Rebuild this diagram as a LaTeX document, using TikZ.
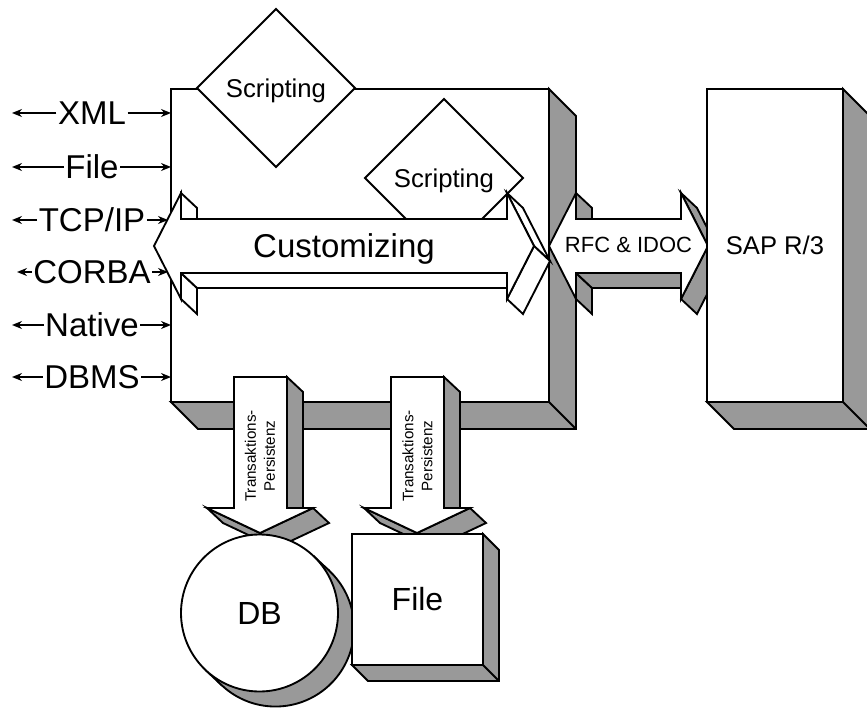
\documentclass[tikz,border=0pt]{standalone}
\usepackage{fontspec}
\setmainfont{Liberation Sans}
\usetikzlibrary{arrows.meta, shapes.geometric}

\definecolor{sidegray}{RGB}{153,153,153}
\tikzstyle{frontface} = [draw=black, fill=white, line width=1.4pt, outer sep=0pt]
\tikzstyle{sideface} = [draw=black, fill=sidegray, line width=1.4pt]
\tikzstyle{paleside} = [draw=black, fill=white, line width=1.4pt]
\tikzstyle{iface} = [font=\fontsize{24.75}{29}\selectfont, text height=17.7pt, text depth=0pt, inner sep=1pt]
\tikzstyle{connector} = [line width=1.1pt, -{Stealth[length=7.5pt,width=6pt]}]
\tikzstyle{scriptbox} = [diamond, frontface, minimum width=118.5pt, minimum height=118.5pt, inner sep=0pt, font=\fontsize{19.3}{23}\selectfont, text height=13.8pt, text depth=0pt]
\tikzstyle{persist} = [rotate=90, align=center, inner sep=0pt, font=\fontsize{11.4}{14.25}\selectfont]

\begin{document}
\begin{tikzpicture}[x=0.75pt, y=-0.75pt]
  \useasboundingbox (0,0) rectangle (867,709);
  \clip (0,0) rectangle (867,709);

  % Main block
  \node (core) at (360,245.5) [rectangle, frontface, minimum width=283.5pt, minimum height=234.75pt] {};
  \filldraw[sideface] (core.north east) -- ++(27,27) -- ++(0,313) -- ++(-378,0) -- (core.south west) -- (core.south east) -- cycle;
  \draw[line width=1.4pt] (core.south east) -- ++(27,27);

  % Scripting
  \node (script1) at (276,88) [scriptbox] {Scripting};
  \node (script2) at (444,178) [scriptbox] {Scripting};

  % Customizing arrow
  \filldraw[paleside] (181,193) -- (197,208) -- (197,234) -- (181,219) -- cycle;
  \filldraw[paleside] (181,273) -- (197,288) -- (197,314) -- (181,299) -- cycle;
  \filldraw[paleside] (181,273) -- (507,273) -- (523,288) -- (197,288) -- cycle;
  \filldraw[paleside] (507,193) -- (523,208) -- (550,261) -- (534,246) -- cycle;
  \filldraw[paleside] (534,246) -- (550,261) -- (523,314) -- (507,299) -- cycle;
  \filldraw[frontface] (154,246) -- (181,193) -- (181,219) -- (507,219) -- (507,193) -- (534,246)
    -- (507,299) -- (507,273) -- (181,273) -- (181,299) -- cycle;
  \node (custom) at (344,246) [font=\fontsize{24.75}{29}\selectfont, text height=17.7pt, text depth=0pt] {Customizing};

  % RFC arrow
  \filldraw[sideface] (576,193) -- (592,208) -- (592,234) -- (576,219) -- cycle;
  \filldraw[sideface] (576,273) -- (592,288) -- (592,314) -- (576,299) -- cycle;
  \filldraw[sideface] (576,273) -- (681,273) -- (697,288) -- (592,288) -- cycle;
  \filldraw[sideface] (681,193) -- (697,208) -- (724,261) -- (708,246) -- cycle;
  \filldraw[sideface] (708,246) -- (724,261) -- (697,314) -- (681,299) -- cycle;
  \filldraw[frontface] (549,246) -- (576,193) -- (576,219) -- (681,219) -- (681,193) -- (708,246)
    -- (681,299) -- (681,273) -- (576,273) -- (576,299) -- cycle;
  \node (rfc) at (628.5,245) [font=\fontsize{16.5}{20}\selectfont, text height=11.8pt, text depth=0pt] {RFC \& IDOC};

  % SAP
  \node (sap) at (775,245.5) [rectangle, frontface, minimum width=102pt, minimum height=234.75pt,
    font=\fontsize{19.2}{23}\selectfont, text height=13.75pt, text depth=0pt] {SAP R/3};
  \filldraw[sideface] (sap.north east) -- ++(27,27) -- ++(0,313) -- ++(-136,0) -- (sap.south west) -- (sap.south east) -- cycle;
  \draw[line width=1.4pt] (sap.south east) -- ++(27,27);

  % Persistence arrows
  \filldraw[sideface] (287,377) -- (303,392) -- (303,523) -- (287,508) -- cycle;
  \filldraw[sideface] (207,508) -- (260,533) -- (276,548) -- (223,523) -- cycle;
  \filldraw[sideface] (313,508) -- (329,523) -- (276,548) -- (260,533) -- cycle;
  \filldraw[frontface] (234,377) -- (287,377) -- (287,508) -- (313,508) -- (260,533) -- (207,508) -- (234,508) -- cycle;
  \node (persist1) at (260,456) [persist] {Transaktions-\\Persistenz};

  \filldraw[sideface] (444,377) -- (460,392) -- (460,523) -- (444,508) -- cycle;
  \filldraw[sideface] (364,508) -- (417,533) -- (433,548) -- (380,523) -- cycle;
  \filldraw[sideface] (470,508) -- (486,523) -- (433,548) -- (417,533) -- cycle;
  \filldraw[frontface] (391,377) -- (444,377) -- (444,508) -- (470,508) -- (417,533) -- (364,508) -- (391,508) -- cycle;
  \node (persist2) at (417.5,456) [persist] {Transaktions-\\Persistenz};

  % DB
  \filldraw[sideface] (275.5,628) circle[radius=58.9pt];
  \fill[sidegray] (313.2,555.7) -- (329.2,570.7) -- (221.8,685.3) -- (205.8,670.3) -- cycle;
  \draw[line width=1.4pt] (313.2,555.7) -- (329.2,570.7);
  \draw[line width=1.4pt] (205.8,670.3) -- (221.8,685.3);
  \node (db) at (259.5,613) [circle, frontface, minimum size=117.75pt, font=\fontsize{24}{28}\selectfont, text height=17.2pt, text depth=0pt] {DB};

  % File
  \node (filebox) at (417.5,599.5) [rectangle, frontface, minimum size=98.25pt, font=\fontsize{24}{28}\selectfont, text height=17.2pt, text depth=0pt] {File};
  \filldraw[sideface] (filebox.north east) -- ++(16,16) -- ++(0,131) -- ++(-131,0) -- (filebox.south west) -- (filebox.south east) -- cycle;
  \draw[line width=1.4pt] (filebox.south east) -- ++(16,16);

  % Interfaces
  \node (xml) at (92,113) [iface] {XML};
  \node (file) at (92,167) [iface] {File};
  \node (tcp) at (92,220) [iface] {TCP/IP};
  \node (corba) at (92,272) [iface] {CORBA};
  \node (native) at (92,325) [iface] {Native};
  \node (dbms) at (92,377) [iface] {DBMS};

  \coordinate (xmlout) at (12,113);
  \coordinate (fileout) at (12,167);
  \coordinate (tcpout) at (12,220);
  \coordinate (corbaout) at (17,272);
  \coordinate (nativeout) at (12,325);
  \coordinate (dbmsout) at (12,377);
  \coordinate (tcpin) at (168,220);
  \coordinate (corbain) at (168,272);

  \draw[connector] (xml) -- (xmlout);
  \draw[connector] (xml) -- (xml -| core.west);
  \draw[connector] (file) -- (fileout);
  \draw[connector] (file) -- (file -| core.west);
  \draw[connector] (tcp) -- (tcpout);
  \draw[connector] (tcp) -- (tcpin);
  \draw[connector] (corba) -- (corbaout);
  \draw[connector] (corba) -- (corbain);
  \draw[connector] (native) -- (nativeout);
  \draw[connector] (native) -- (native -| core.west);
  \draw[connector] (dbms) -- (dbmsout);
  \draw[connector] (dbms) -- (dbms -| core.west);

\end{tikzpicture}
\end{document}
